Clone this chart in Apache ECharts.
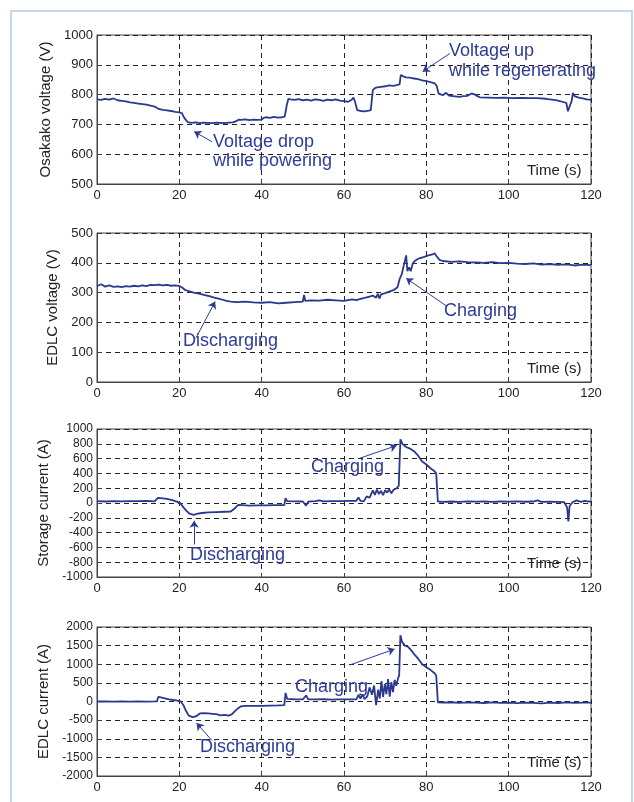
<!DOCTYPE html>
<html>
<head>
<meta charset="utf-8">
<script src="https://cdn.jsdelivr.net/npm/echarts@6/dist/echarts.min.js"></script>
<style>
  html, body { margin: 0; padding: 0; background: #fff; }
  #chart-container { width: 634px; height: 802px; }
</style>
</head>
<body>
<div id="chart-container"></div>
<script>
// --- Data (time in s) ---
const osakakoVoltage = [
  [0,784],[1,782],[2,786],[3,783],[4,787],[5,781],[6,779],[7,777],[8,774],[9,772],[10,770],[11,768],[12,766],[13,763],[14,760],
  [15,752],[16,749],[17,747],[18,745],[19,742],[20,740],[20.6,738],[21.2,722],[22,708],[23,705],[24,707],[25,704],[26,706],
  [27,705],[28,704],[29,706],[30,705],[31,704],[32,706],[33,707],[34,712],[34.5,716],[35,715],[36,717],[37,714],[38,716],
  [39,715],[40,716],[40.5,722],[41,724],[42,722],[43,725],[44,723],[45,724],[45.6,726],[46.1,765],[46.5,786],[47,784],
  [48,782],[49,785],[50,781],[51,783],[52,780],[53,784],[54,782],[55,779],[56,783],[57,781],[58,784],[59,780],[60,778],
  [61,776],[61.8,782],[62.3,790],[62.7,775],[63.2,748],[64,745],[65,744],[66,746],[66.5,748],[67,815],[67.5,822],[68,824],
  [69,826],[70,828],[71,831],[72,829],[73,833],[73.5,834],[73.8,866],[74.3,862],[75,858],[76,857],[77,854],[78,852],
  [79,848],[80,845],[81,842],[82,838],[82.5,830],[83,803],[84,798],[84.8,806],[85.5,797],[86,796],[87,794],[88,792],
  [89,795],[90,796],[91,804],[91.8,800],[92.5,794],[93,791],[95,790],[97,789],[99,790],[101,788],[103,789],[105,788],
  [107,788],[109,786],[110,784],[111,782],[112,780],[113,776],[114,772],[114.4,744],[114.8,760],[115.3,778],[115.6,806],
  [116,795],[117,790],[118,787],[119,784],[120,782]
];

const edlcVoltage = [
  [0,322],[1,328],[2,320],[3,324],[4,319],[5,321],[6,318],[7,322],[8,320],[9,323],[10,321],[11,324],[12,322],[13,326],
  [14,325],[15,327],[16,324],[17,326],[18,323],[19,324],[20,322],[20.6,318],[21.5,308],[22.5,304],[23.5,300],[24.5,297],
  [25.5,294],[26.5,291],[27.5,287],[28.5,283],[29.5,280],[30.5,276],[31.5,272],[32.5,270],[34,268],[36,270],[38,267],
  [40,266],[42,268],[44,264],[46,266],[48,268],[50,270],[50.3,292],[50.6,272],[52,274],[54,273],[56,276],[58,274],
  [60,272],[62,277],[63,275],[64,279],[65,282],[66,286],[67,290],[67.8,283],[68.2,296],[68.6,280],[69,294],[70,298],
  [71,303],[72,308],[73,318],[73.5,345],[74,360],[74.3,378],[74.7,375],[75.1,425],[75.4,372],[75.8,385],[76.2,372],
  [76.7,398],[77.2,406],[77.8,412],[78.5,416],[79.5,420],[80.5,425],[81.5,428],[82,432],[82.5,422],[83.2,410],[84,406],
  [86,403],[88,405],[90,402],[92,401],[94,400],[96,402],[98,399],[100,400],[102,397],[104,396],[106,398],[108,394],
  [110,396],[112,393],[114,395],[116,391],[118,394],[120,392]
];

const storageCurrent = [
  [0,25],[2,20],[4,24],[6,22],[8,26],[10,24],[12,28],[14,22],[14.8,68],[15.5,66],[16.5,58],[17.5,50],[18.5,35],[19.5,15],
  [20.3,-5],[21,-60],[21.8,-110],[22.5,-145],[23.5,-160],[24.5,-145],[25.5,-135],[27,-128],[29,-122],[31,-118],[32.5,-115],
  [33.5,-70],[34.3,-25],[35.5,-30],[37,-35],[39,-33],[41,-32],[43,-30],[45.5,-28],[45.8,65],[46.2,25],[48,22],[50,20],
  [50.8,-35],[51.3,18],[53,24],[54,35],[55,22],[57,26],[59,24],[61,28],[63,30],[63.5,75],[64,30],[64.8,22],[65.5,90],
  [66.2,70],[67,170],[67.5,110],[68,180],[68.5,120],[69,165],[69.5,105],[70,175],[70.5,140],[71,185],[71.5,130],[72,175],
  [72.8,200],[73.3,230],[73.7,860],[74.2,800],[75,760],[76,735],[77,700],[78,640],[79,560],[80,520],[81,470],[82,430],
  [82.4,400],[82.8,20],[84,15],[86,20],[88,16],[90,22],[92,18],[94,20],[96,16],[98,20],[100,18],[102,21],[104,17],
  [106,20],[107,35],[108,15],[110,18],[112,15],[113.5,10],[114.2,-60],[114.5,-250],[114.8,-40],[115.5,10],[116.5,35],
  [117.5,15],[118.5,30],[119.5,18],[120,20]
];

const edlcCurrent = [
  [0,0],[2,5],[4,-5],[6,2],[8,-3],[10,4],[12,-2],[14,3],[14.6,5],[14.9,125],[15.5,110],[16.5,85],[17.5,55],[18.5,40],
  [19.5,25],[20.3,5],[21,-100],[21.6,-250],[22.3,-380],[23.2,-420],[24,-400],[25,-320],[26,-310],[27,-320],[28,-330],
  [29,-340],[30,-370],[31,-360],[32,-380],[32.8,-340],[33.5,-260],[34.3,-180],[35,-130],[36,-115],[38,-120],[40,-115],
  [42,-110],[44,-105],[45.5,-100],[45.8,230],[46.2,70],[48,60],[50,55],[50.8,160],[51.3,60],[53,55],[55,60],[57,50],
  [59,55],[61,58],[63,60],[63.5,180],[64,80],[64.5,190],[65,60],[65.7,150],[66.2,380],[66.8,180],[67.3,430],[67.8,-100],
  [68.3,320],[68.7,80],[69.1,550],[69.5,120],[69.9,470],[70.3,200],[70.7,600],[71.1,130],[71.5,520],[71.9,250],[72.3,580],
  [72.7,420],[73.1,610],[73.4,700],[73.7,1780],[74.1,1600],[74.8,1500],[75.5,1470],[76.3,1380],[77.2,1250],[78,1150],
  [79,1000],[80,920],[81,850],[82,760],[82.4,700],[82.8,-20],[84,-30],[86,-20],[88,-35],[90,-25],[92,-30],[94,-40],
  [96,-25],[98,-35],[100,-30],[102,-45],[104,-30],[106,-35],[108,-50],[110,-30],[112,-40],[114,-25],[116,-35],[118,-30],
  [120,-30]
];

// panel setup: name, y range, interval
const panelNames = ['Osakako voltage (V)', 'EDLC voltage (V)', 'Storage current (A)', 'EDLC current (A)'];
const yMins = [500, 0, -1000, -2000];
const yMaxs = [1000, 500, 1000, 2000];
const yIntervals = [100, 100, 200, 500];
const panelData = [osakakoVoltage, edlcVoltage, storageCurrent, edlcCurrent];

// arrows: [from, to] in data coords
const panelArrows = [
  [[[27.9, 642], [23.6, 676]], [[85.7, 938], [79.1, 877]]],
  [[[24.0, 147], [28.7, 270]], [[84.8, 256], [75.1, 348]]],
  [[[23.6, -560], [23.6, -240]], [[63.9, 606], [72.8, 777]]],
  [[[27.9, -1046], [24.2, -580]], [[61.5, 984], [72.3, 1407]]]
];

const gridTops = [35, 233, 429, 627];
const gridHeights = [149, 149, 148, 149];
const nameGaps = [34, 34, 36, 36];

const lineColor = '#2a3890';
const noteColor = '#2e3b96';

var myChart = echarts.init(document.getElementById('chart-container'));

const grids = [], xAxes = [], yAxes = [], series = [];
for (let i = 0; i < 4; i++) {
    grids.push({ left: 97, width: 494, top: gridTops[i], height: gridHeights[i],
                 show: true, borderColor: '#444', borderWidth: 1, backgroundColor: '#fff' });
    xAxes.push({
        type: 'value', gridIndex: i, min: 0, max: 120, interval: 20,
        axisLine: { show: true, onZero: false, lineStyle: { color: '#444' } },
        axisTick: { inside: true, length: 4, lineStyle: { color: '#444' } },
        axisLabel: { color: '#222', fontSize: 13, margin: 5, fontFamily: 'Liberation Sans',
                     formatter: v => String(v) },
        splitLine: { show: true, lineStyle: { color: '#222', type: [5, 4], width: 1 } }
    });
    yAxes.push({
        type: 'value', gridIndex: i, min: yMins[i], max: yMaxs[i], interval: yIntervals[i],
        name: panelNames[i], nameLocation: 'middle', nameGap: nameGaps[i],
        nameTextStyle: { color: '#222', fontSize: 15, fontFamily: 'Liberation Sans' },
        axisLine: { show: true, lineStyle: { color: '#444' } },
        axisTick: { inside: true, length: 4, lineStyle: { color: '#444' } },
        axisLabel: { color: '#222', fontSize: i >= 2 ? 12 : 13, margin: 4, fontFamily: 'Liberation Sans',
                     formatter: v => String(v) },
        splitLine: { show: true, lineStyle: { color: '#222', type: [5, 4], width: 1 } }
    });
    series.push({
        type: 'line', xAxisIndex: i, yAxisIndex: i, data: panelData[i],
        showSymbol: false, silent: true,
        lineStyle: { color: lineColor, width: 1.8 },
        markLine: {
            silent: true, symbol: ['none', 'arrow'], symbolSize: 7,
            label: { show: false },
            lineStyle: { color: noteColor, width: 1, type: 'solid' },
            data: panelArrows[i].map(a => [{ coord: a[0] }, { coord: a[1] }])
        }
    });
}

// annotation texts (pixel placed)
function note(text, left, top, size, color) {
    return { type: 'text', left: left, top: top, z: 100,
             style: { text: text, fill: color || noteColor, font: (size || 18) + 'px "Liberation Sans"' } };
}

const graphics = [
    { type: 'rect', shape: { x: 11, y: 11, width: 621, height: 800 }, z: -10,
      style: { fill: 'none', stroke: '#c6d7ee', lineWidth: 2 } },
    note('Voltage drop', 213, 133), note('while powering', 213, 152),
    note('Voltage up', 449, 42), note('while regenerating', 449, 62),
    note('Discharging', 183, 332),
    note('Charging', 444, 302),
    note('Charging', 311, 458),
    note('Discharging', 190, 546),
    note('Charging', 295, 678),
    note('Discharging', 200, 738)
];
gridTops.forEach((t, i) => {
    graphics.push(note('Time (s)', 527, t + gridHeights[i] - 21, 15, '#222'));
});

const option = {
    animation: false,
    backgroundColor: '#fff',
    grid: grids,
    xAxis: xAxes,
    yAxis: yAxes,
    series: series,
    graphic: graphics
};

myChart.setOption(option);

window.addEventListener('resize', function() {
    myChart.resize();
});
</script>
</body>
</html>
